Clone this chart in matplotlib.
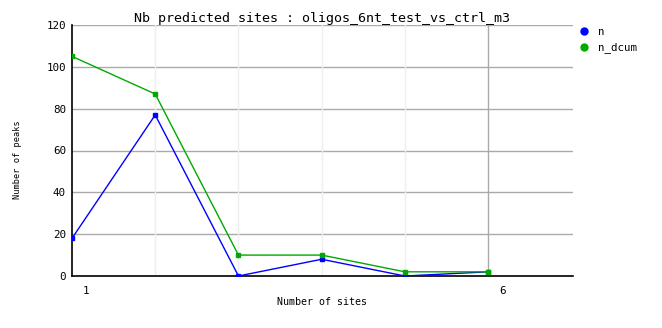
import matplotlib
matplotlib.use("Agg")
import matplotlib.pyplot as plt
from matplotlib.lines import Line2D

# Data
sites = [1, 2, 3, 4, 5, 6]
n = [18, 77, 0, 8, 0, 2]
n_dcum = [105, 87, 10, 10, 2, 2]
yticks = [0, 20, 40, 60, 80, 100, 120]
xtick_labels = {1: '1', 6: '6'}

plt.rcParams['font.family'] = 'DejaVu Sans Mono'

fig = plt.figure(figsize=(6.62, 3.28), dpi=100)
ax = fig.add_axes([72 / 662, 52 / 328, 501 / 662, 251 / 328])

# grid
for y in yticks[1:]:
    ax.axhline(y, color='#aaaaaa', lw=1, zorder=0)
for x in sites[1:5]:
    ax.axvline(x, color='#eeeeee', lw=1, zorder=0)
ax.axvline(6, color='#aaaaaa', lw=1, zorder=0)

ax.plot(sites, n, color='#0000ff', lw=1, marker='s', ms=3, zorder=3)
ax.plot(sites, n_dcum, color='#00aa00', lw=1, marker='s', ms=3, zorder=4)

ax.set_xlim(1, 7.02)
ax.set_ylim(0, 120)
ax.set_yticks(yticks)
ax.set_xticks([])
ax.tick_params(length=0, labelsize=7.8, pad=4.5)

# x tick labels are shifted right of their positions in the original
for x, t in xtick_labels.items():
    ax.annotate(t, xy=(x, 0), xycoords=('data', 'axes fraction'),
                xytext=(10, -7.5), textcoords='offset points',
                ha='center', va='top', fontsize=7.8)

for s in ['top', 'right']:
    ax.spines[s].set_visible(False)
ax.spines['left'].set_linewidth(1.2)
ax.spines['bottom'].set_linewidth(1.2)

ax.set_title('Nb predicted sites : oligos_6nt_test_vs_ctrl_m3', fontsize=9.6, pad=2.5)
fig.text(322 / 662, 1 - 302 / 328, 'Number of sites', fontsize=7.2, ha='center', va='center')
fig.text(18 / 662, 1 - 160 / 328, 'Number of peaks', fontsize=6.2, ha='center', va='center',
         rotation=90)

handles = [Line2D([], [], ls='', marker='o', ms=5, color='#0000ff'),
           Line2D([], [], ls='', marker='o', ms=5, color='#00aa00')]
fig.legend(handles, ['n', 'n_dcum'], loc='upper left', bbox_to_anchor=(581 / 662, 1 - 27 / 328),
           frameon=False, fontsize=7.8, handlelength=0.6, handletextpad=1.0,
           labelspacing=0.5, borderaxespad=0, borderpad=0)

fig.savefig('out.png', dpi=100)
